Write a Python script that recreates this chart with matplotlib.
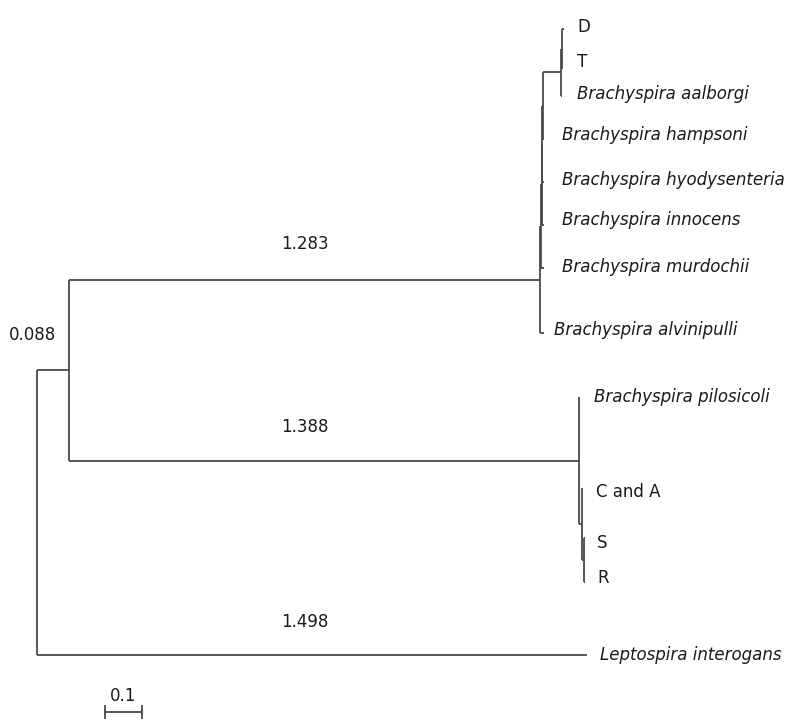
import matplotlib
matplotlib.use("Agg")
import matplotlib.pyplot as plt

# tree in newick form, branch lengths
NEWICK = ("(((((((((D:0.004,T:0.003):0.003,'Brachyspira aalborgi':0.002):0.049,"
          "'Brachyspira hampsoni':0.003):0.002,'Brachyspira hyodysenteriae':0.005):0.002,"
          "'Brachyspira innocens':0.007):0.002,'Brachyspira murdochii':0.009):0.002,"
          "'Brachyspira alvinipulli':0.011):1.283,"
          "('Brachyspira pilosicoli':0.002,('C and A':0.002,(S:0.003,R:0.003):0.006):0.008):1.388):0.088,"
          "'Leptospira interogans':1.498);")

# branch labels shown on the figure
branch_text = ['1.283', '1.388', '1.498', '0.088']
scale_len = 0.1

# layout: leaf rows (pixels from top)
leaf_rows = {
    'D': 29, 'T': 68, 'Brachyspira aalborgi': 96, 'Brachyspira hampsoni': 139,
    'Brachyspira hyodysenteriae': 182, 'Brachyspira innocens': 225,
    'Brachyspira murdochii': 268, 'Brachyspira alvinipulli': 333,
    'Brachyspira pilosicoli': 397, 'C and A': 488, 'S': 538, 'R': 582,
    'Leptospira interogans': 655,
}
# label offsets (px right, px down) from the leaf tip
label_nudge = {'D': (14, -2), 'T': (14, -6), 'Brachyspira aalborgi': (15, -2),
               'Brachyspira hampsoni': (18, -4), 'Brachyspira hyodysenteriae': (18, -2),
               'Brachyspira innocens': (18, -5), 'Brachyspira murdochii': (18, -1),
               'Brachyspira alvinipulli': (10, -3), 'Brachyspira pilosicoli': (15, 0),
               'C and A': (14, 4), 'S': (12, 5), 'R': (12, -4),
               'Leptospira interogans': (13, 0)}

LINE = '#4a4a4a'
TXT = '#1a1a1a'
FONT = 'DejaVu Sans'
FS = 12


def parse(s):
    """tiny newick parser -> dict(name, length, children)"""
    pos = 0

    def node():
        nonlocal pos
        n = {'name': None, 'length': 0.0, 'children': []}
        if s[pos] == '(':
            pos += 1
            while True:
                n['children'].append(node())
                if s[pos] == ',':
                    pos += 1
                    continue
                pos += 1  # ')'
                break
        if s[pos] == "'":
            end = s.index("'", pos + 1)
            n['name'] = s[pos + 1:end]
            pos = end + 1
        else:
            start = pos
            while s[pos] not in ':,);':
                pos += 1
            n['name'] = s[start:pos] or None
        if s[pos] == ':':
            pos += 1
            start = pos
            while s[pos] not in ',);':
                pos += 1
            n['length'] = float(s[start:pos])
        return n

    return node()


def layout(n, x0=0.0):
    n['x'] = x0 + n['length']
    if n['children']:
        for c in n['children']:
            layout(c, n['x'])
        n['y'] = (n['children'][0]['y'] + n['children'][-1]['y']) / 2
    else:
        n['y'] = leaf_rows[n['name']]


tree = parse(NEWICK)
tree['length'] = 0.0
layout(tree)

fig = plt.figure(figsize=(7.85, 7.2), dpi=100)
ax = fig.add_axes([0, 0, 1, 1])
px = 367.0  # pixels per unit branch length
x0 = 37.0
ax.set_xlim(-x0 / px, (785 - x0) / px)
ax.set_ylim(720, 0)
ax.axis('off')

leaves = []


def draw(n):
    if n['children']:
        ys = [c['y'] for c in n['children']]
        ax.plot([n['x'], n['x']], [min(ys), max(ys)], color=LINE, lw=1.3,
                solid_capstyle='butt')
        for c in n['children']:
            ax.plot([n['x'], c['x']], [c['y'], c['y']], color=LINE, lw=1.3,
                    solid_capstyle='butt')
            draw(c)
    else:
        leaves.append(n)


draw(tree)

for lf in leaves:
    dx, dy = label_nudge.get(lf['name'], (12, 0))
    italic = ' ' in lf['name'] and lf['name'] != 'C and A'
    ax.annotate(lf['name'], (lf['x'], lf['y']), xytext=(dx * 0.72, -dy * 0.72),
                textcoords='offset points', ha='left', va='center',
                fontsize=FS, family=FONT, color=TXT,
                style='italic' if italic else 'normal')

# branch length labels
a_node = tree['children'][0]
top_x = (a_node['x'] + a_node['children'][0]['x']) / 2
ax.text(top_x, a_node['children'][0]['y'] - 36, branch_text[0], ha='center', va='center',
        fontsize=FS, family=FONT, color=TXT)
ax.text(top_x, a_node['children'][1]['y'] - 34, branch_text[1], ha='center', va='center',
        fontsize=FS, family=FONT, color=TXT)
ax.text(top_x, tree['children'][1]['y'] - 33, branch_text[2], ha='center', va='center',
        fontsize=FS, family=FONT, color=TXT)
ax.text(-0.011, a_node['y'] - 35, branch_text[3], ha='center', va='center',
        fontsize=FS, family=FONT, color=TXT)

# scale bar
sb0 = 68 / px
ax.plot([sb0, sb0 + scale_len], [712, 712], color=LINE, lw=1.3)
ax.plot([sb0, sb0], [706, 718], color=LINE, lw=1.3)
ax.plot([sb0 + scale_len, sb0 + scale_len], [706, 718], color=LINE, lw=1.3)
ax.text(sb0 + scale_len / 2, 696, f'{scale_len:g}', ha='center', va='center',
        fontsize=FS, family=FONT, color=TXT)

fig.savefig('out.png', dpi=100, facecolor='white')
